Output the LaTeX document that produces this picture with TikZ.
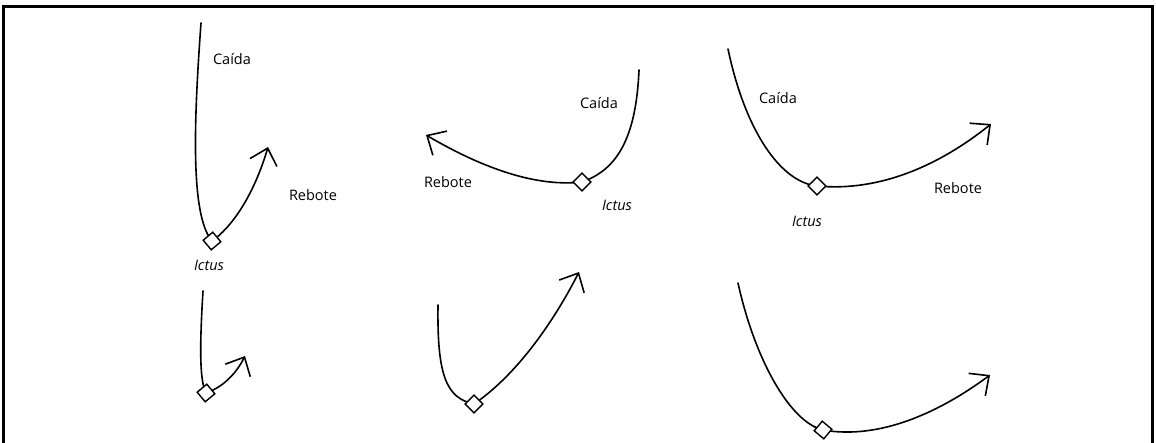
\documentclass[tikz,border=0pt]{standalone}
\usepackage{fontspec}
\setmainfont{Open Sans}
\usetikzlibrary{arrows.meta}
\begin{document}
\begin{tikzpicture}[x=1pt,y=-1pt,
  curve/.style={line width=1.6pt, line cap=round},
  arr/.style={curve, -{Straight Barb[length=15pt,width=28pt,line width=1.6pt]}},
  ictus/.style={draw, fill=white, line width=1.4pt, rectangle, minimum size=12.5pt, inner sep=0pt},
  lab/.style={font=\fontsize{14.5}{17}\selectfont, inner sep=0pt},
  labi/.style={lab, font=\fontsize{14.5}{17}\selectfont\itshape}]
\useasboundingbox (0,0) rectangle (1156,443);
% frame
\draw[line width=2.4pt] (3.5,445) -- (3.5,6.5) -- (1152.5,6.5) -- (1152.5,445);

% ---------- diagram 1 top ----------
\coordinate (s1) at (201,23);
\coordinate (c1) at (212,241);
\coordinate (e1) at (268,147);
\draw[curve] (s1) .. controls (194,120) and (190,215) .. (c1);
\draw[arr] (c1) .. controls (236,224) and (256,188) .. (e1);
\node[ictus, rotate=40] (d1) at (c1) {};
\node[lab] (caida1) at (232,59) {Caída};
\node[lab] (rebote1) at (313,195) {Rebote};
\node[labi] (ictus1) at (209,265) {Ictus};

% ---------- diagram 1 bottom ----------
\coordinate (s1b) at (203,291);
\coordinate (c1b) at (206,393);
\coordinate (e1b) at (245,356);
\draw[curve] (s1b) .. controls (200,340) and (199,380) .. (c1b);
\draw[arr] (c1b) .. controls (226,386) and (238,370) .. (e1b);
\node[ictus, rotate=40] (d1b) at (c1b) {};

% ---------- diagram 2 top ----------
\coordinate (s2) at (639,70);
\coordinate (c2) at (582,182);
\coordinate (e2) at (426,135);
\draw[curve] (s2) .. controls (636,140) and (616,170) .. (c2);
\draw[arr] (c2) .. controls (530,188) and (472,162) .. (e2);
\node[ictus, rotate=45] (d2) at (c2) {};
\node[lab] (caida2) at (599,103) {Caída};
\node[lab] (rebote2) at (448,182) {Rebote};
\node[labi] (ictus2) at (617,205) {Ictus};

% ---------- diagram 2 bottom ----------
\coordinate (s2b) at (438,305);
\coordinate (c2b) at (474,404);
\coordinate (e2b) at (579,272);
\draw[curve] (s2b) .. controls (437,375) and (446,398) .. (c2b);
\draw[arr] (c2b) .. controls (515,376) and (552,325) .. (e2b);
\node[ictus, rotate=45] (d2b) at (c2b) {};

% ---------- diagram 3 top ----------
\coordinate (s3) at (728,49);
\coordinate (c3) at (817,186);
\coordinate (e3) at (991,124);
\draw[curve] (s3) .. controls (745,130) and (780,182) .. (c3);
\draw[arr] (c3) .. controls (880,192) and (940,165) .. (e3);
\node[ictus, rotate=45] (d3) at (c3) {};
\node[lab] (caida3) at (778,98) {Caída};
\node[lab] (rebote3) at (958,188) {Rebote};
\node[labi] (ictus3) at (807,221) {Ictus};

% ---------- diagram 3 bottom ----------
\coordinate (s3b) at (738,283);
\coordinate (c3b) at (823,430);
\coordinate (e3b) at (990,375);
\draw[curve] (s3b) .. controls (755,360) and (790,422) .. (c3b);
\draw[arr] (c3b) .. controls (880,440) and (940,412) .. (e3b);
\node[ictus, rotate=50] (d3b) at (c3b) {};
\end{tikzpicture}
\end{document}
